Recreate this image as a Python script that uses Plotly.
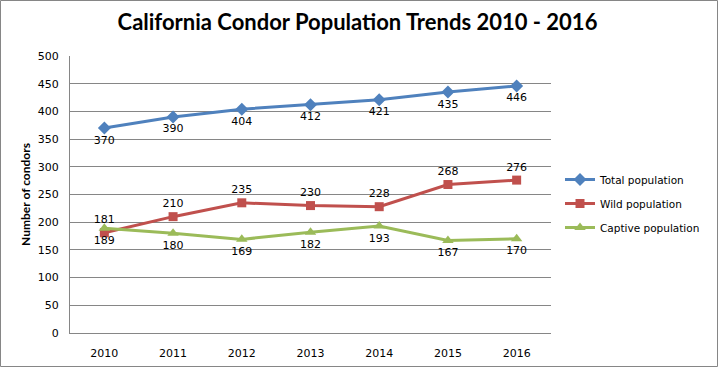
import plotly.graph_objects as go

years = ["2010", "2011", "2012", "2013", "2014", "2015", "2016"]
total = [370, 390, 404, 412, 421, 435, 446]
wild = [181, 210, 235, 230, 228, 268, 276]
captive = [189, 180, 169, 182, 193, 167, 170]
y_ticks = [0, 50, 100, 150, 200, 250, 300, 350, 400, 450, 500]

W, H = 718, 367
L, R, T, B = 70, 167, 56, 34
pw, ph = W - L - R, H - T - B

tick_font = dict(family="DejaVu Sans", size=11, color="#000000")
legend_font = dict(family="DejaVu Sans", size=10.5, color="#000000")

fig = go.Figure()
fig.add_trace(go.Scatter(
    x=years, y=total, name="Total population", mode="lines+markers+text",
    legendgroup="a",
    line=dict(color="#4F81BD", width=3),
    marker=dict(symbol="diamond", size=10, color="#4F81BD"),
    text=[str(v) for v in total], textposition="bottom center",
    textfont=tick_font,
))
fig.add_trace(go.Scatter(
    x=years, y=wild, name="Wild population", mode="lines+markers+text",
    legendgroup="b",
    line=dict(color="#C0504D", width=3),
    marker=dict(symbol="square", size=9, color="#C0504D"),
    text=[str(v) for v in wild], textposition="top center",
    textfont=tick_font,
))
fig.add_trace(go.Scatter(
    x=years, y=captive, name="Captive population", mode="lines+markers+text",
    legendgroup="c",
    line=dict(color="#9BBB59", width=3),
    marker=dict(symbol="triangle-up", size=10, color="#9BBB59"),
    text=[str(v) for v in captive], textposition="bottom center",
    textfont=tick_font,
))

fig.update_layout(
    width=W, height=H,
    margin=dict(l=L, r=R, t=T, b=B, autoexpand=False),
    paper_bgcolor="white", plot_bgcolor="white",
    title=dict(text="<b>California Condor Population Trends 2010 - 2016</b>",
               x=(118 + 597) / 2 / W, xanchor="center", y=1 - 22 / H, yanchor="middle",
               font=dict(family="Lato", size=22, color="#000000")),
    legend=dict(x=(560 - L) / pw, xanchor="left", y=(H - B - 165) / ph, yanchor="top",
                font=legend_font, bgcolor="rgba(0,0,0,0)", tracegroupgap=5,
                itemwidth=30),
    showlegend=True,
)
fig.update_xaxes(
    type="category", range=[-0.5, 6.5], showgrid=False,
    showline=True, linecolor="#868686", linewidth=1,
    ticks="", tickfont=tick_font, ticklabelstandoff=10, automargin=False,
)
fig.update_yaxes(
    range=[0, 500], tickvals=y_ticks, showgrid=True, gridcolor="#868686", gridwidth=1,
    showline=True, linecolor="#868686", linewidth=1, zeroline=False,
    ticks="", tickfont=tick_font, ticklabelstandoff=8, automargin=False,
    title=dict(text="<b>Number of condors</b>",
               font=dict(family="Lato", size=12, color="#000000"), standoff=4),
)
fig.add_shape(type="rect", xref="paper", yref="paper",
              x0=(0.5 - L) / pw, x1=(W - 0.5 - L) / pw,
              y0=-(B - 0.5) / ph, y1=1 + (T - 0.5) / ph,
              line=dict(color="#868686", width=1), layer="below")
fig.write_html("out.html", config={"displayModeBar": False},
               post_script="document.body.style.margin='0';")
